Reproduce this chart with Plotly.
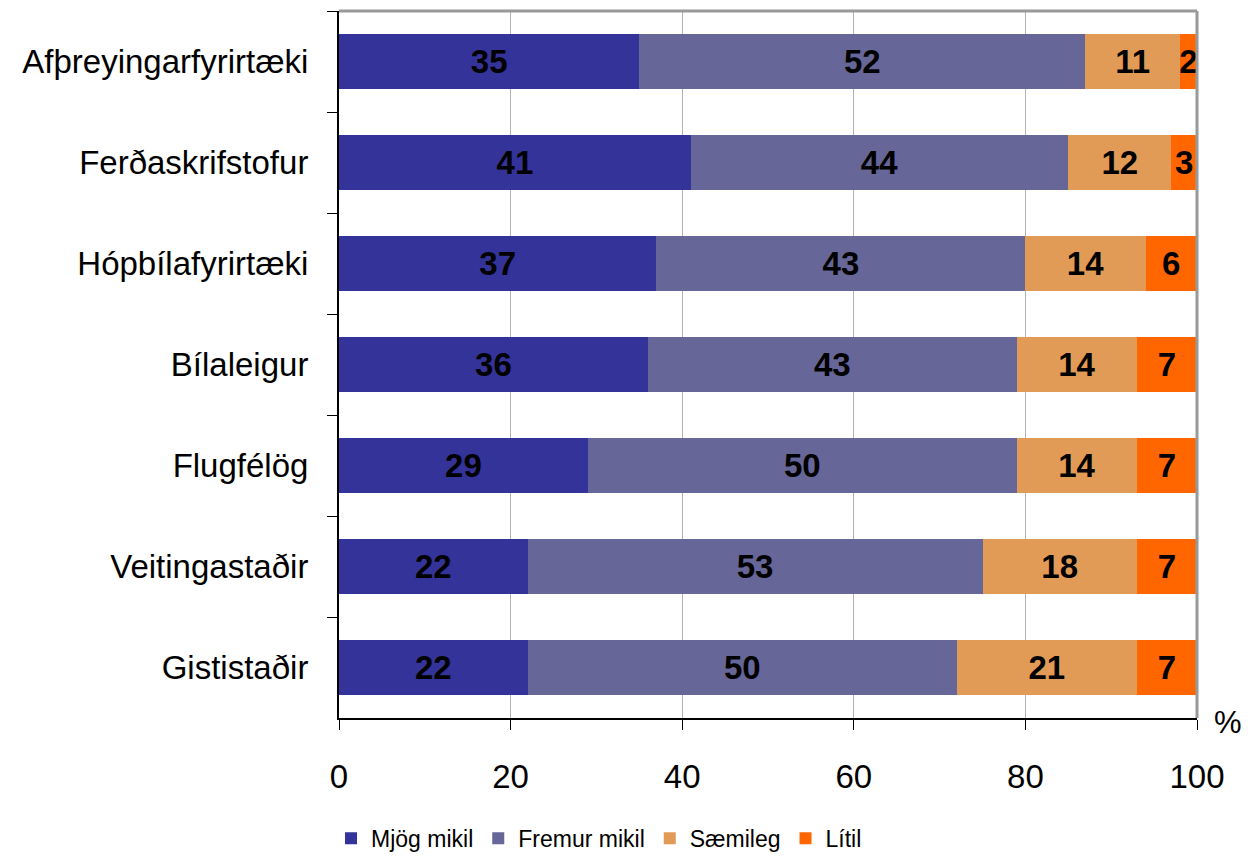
import plotly.graph_objects as go

categories = ["Afþreyingarfyrirtæki", "Ferðaskrifstofur", "Hópbílafyrirtæki", "Bílaleigur",
              "Flugfélög", "Veitingastaðir", "Gististaðir"]
mjog_mikil = [35, 41, 37, 36, 29, 22, 22]
fremur_mikil = [52, 44, 43, 43, 50, 53, 50]
saemileg = [11, 12, 14, 14, 14, 18, 21]
litil = [2, 3, 6, 7, 7, 7, 7]
series_names = ["Mjög mikil", "Fremur mikil", "Sæmileg", "Lítil"]
series_values = [mjog_mikil, fremur_mikil, saemileg, litil]
colors = ["#333399", "#666699", "#E29B56", "#FF6600"]
x_ticks = [0, 20, 40, 60, 80, 100]

FONT = "Liberation Sans, Arial, sans-serif"

fig = go.Figure()
for name, vals, col in zip(series_names, series_values, colors):
    fig.add_trace(go.Bar(
        y=categories, x=vals, name=name, orientation="h",
        marker=dict(color=col, line=dict(width=0)),
        text=[str(v) for v in vals], textposition="inside",
        insidetextanchor="middle", textangle=0, constraintext="none",
        textfont=dict(family=FONT, size=33, color="black", weight="bold"),
        cliponaxis=False,
    ))

fig.update_layout(
    barmode="stack",
    bargap=0.455,
    width=1243, height=849,
    margin=dict(l=331, r=54, t=3, b=139, autoexpand=False),
    paper_bgcolor="white", plot_bgcolor="white",
    font=dict(family=FONT, size=33, color="black"),
    showlegend=True,
    legend=dict(orientation="h", x=-0.0093, xanchor="left", y=-0.17, yanchor="middle",
                font=dict(family=FONT, size=23, color="black"),
                traceorder="normal", itemwidth=30),
    xaxis=dict(range=[0, 100], tickvals=x_ticks, ticktext=[str(t) for t in x_ticks],
               showgrid=True, gridcolor="#b3b3b3", gridwidth=1,
               showline=True, linecolor="black", linewidth=2,
               ticks="outside", ticklen=10, tickcolor="black", tickwidth=1,
               ticklabelstandoff=18,
               tickfont=dict(family=FONT, size=33), zeroline=False, fixedrange=True),
    yaxis=dict(categoryorder="array", categoryarray=categories, autorange="reversed",
               showline=True, linecolor="black", linewidth=2,
               ticks="outside", ticklen=10, tickcolor="black", tickwidth=1,
               tickson="boundaries", showgrid=False, ticklabelstandoff=22,
               tickfont=dict(family=FONT, size=33)),
)

# gray top and right plot border
fig.add_shape(type="line", xref="paper", yref="paper", x0=0, x1=1, y0=1, y1=1,
              line=dict(color="#999999", width=3), layer="above")
fig.add_shape(type="line", xref="paper", yref="paper", x0=1, x1=1, y0=0, y1=1,
              line=dict(color="#999999", width=3), layer="above")

fig.add_annotation(text="%", xref="paper", yref="paper", x=1.036, y=-0.006,
                   xanchor="center", yanchor="middle", showarrow=False,
                   font=dict(family=FONT, size=31, color="black"))

fig.write_html("out.html")
